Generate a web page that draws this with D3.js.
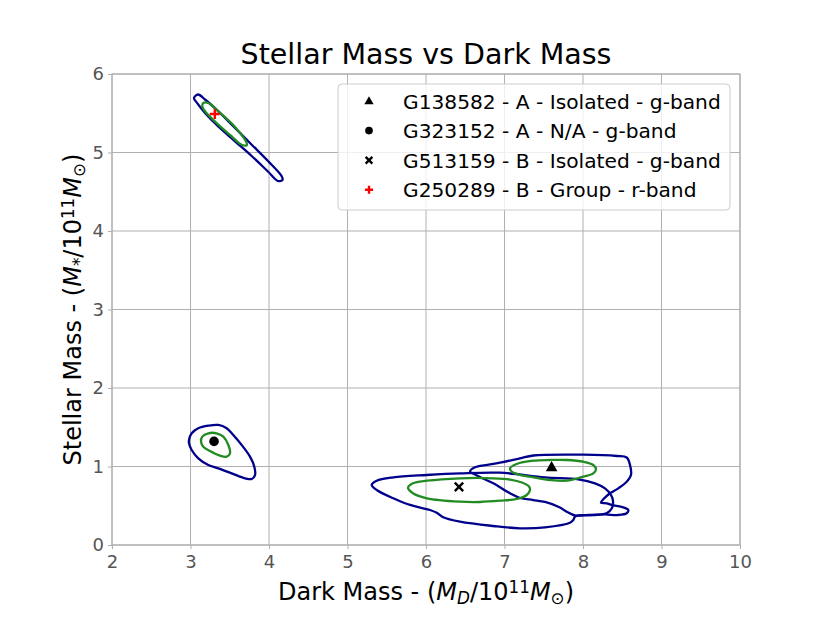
<!DOCTYPE html>
<html><head><meta charset="utf-8">
<script src="https://cdn.jsdelivr.net/npm/d3@7"></script>
<style>
html,body{margin:0;padding:0;background:#fff;}
svg{display:block;}
text{font-family:"DejaVu Sans",sans-serif;}
</style></head>
<body>
<svg id="chart" width="830" height="623"></svg>
<script>
// ---- data ----
const xTicks = [2,3,4,5,6,7,8,9,10];
const yTicks = [0,1,2,3,4,5,6];
const galaxyNames = ["G138582 - A - Isolated - g-band","G323152 - A - N/A - g-band","G513159 - B - Isolated - g-band","G250289 - B - Group - r-band"];
const galaxyX = [7.60, 3.30, 6.42, 3.31];
const galaxyY = [0.99, 1.32, 0.74, 5.49];

// contours [dark mass, stellar mass]
const outerG250289 = [[3.045,5.694],[3.096,5.739],[3.185,5.675],[3.350,5.529],[3.567,5.312],[3.783,5.096],[3.987,4.892],[4.162,4.697],[4.172,4.650],[4.115,4.637],[3.987,4.758],[3.783,4.952],[3.567,5.143],[3.350,5.334],[3.185,5.503],[3.083,5.631]];
const innerG250289 = [[3.150,5.589],[3.163,5.631],[3.227,5.631],[3.350,5.529],[3.567,5.325],[3.716,5.121],[3.716,5.092],[3.652,5.099],[3.503,5.223],[3.354,5.354],[3.185,5.525]];
const outerG323152 = [[2.981,1.338],[3.015,1.423],[3.099,1.487],[3.227,1.520],[3.354,1.529],[3.461,1.487],[3.545,1.401],[3.652,1.274],[3.758,1.125],[3.813,0.997],[3.822,0.892],[3.780,0.841],[3.694,0.850],[3.525,0.913],[3.354,0.977],[3.227,1.019],[3.099,1.104],[3.015,1.210],[2.981,1.296]];
const innerG323152 = [[3.134,1.316],[3.150,1.380],[3.227,1.423],[3.334,1.423],[3.418,1.380],[3.482,1.274],[3.503,1.168],[3.461,1.125],[3.376,1.138],[3.248,1.197],[3.163,1.252]];
const outerG513159 = [[5.308,0.764],[5.372,0.819],[5.583,0.862],[6.009,0.892],[6.433,0.913],[6.943,0.921],[7.516,0.862],[7.940,0.837],[8.153,0.786],[8.280,0.722],[8.357,0.637],[8.382,0.561],[8.369,0.471],[8.306,0.408],[8.153,0.382],[7.940,0.378],[7.898,0.361],[7.876,0.318],[7.834,0.284],[7.516,0.225],[7.197,0.213],[6.857,0.242],[6.433,0.297],[6.220,0.353],[6.136,0.411],[6.051,0.446],[5.796,0.510],[5.583,0.595],[5.372,0.701]];
const innerG513159 = [[5.771,0.730],[5.834,0.786],[6.013,0.819],[6.433,0.850],[6.854,0.850],[7.070,0.834],[7.223,0.796],[7.312,0.745],[7.325,0.701],[7.283,0.637],[7.155,0.586],[6.943,0.564],[6.688,0.548],[6.433,0.552],[6.013,0.595],[5.834,0.659]];
const outerG138582 = [[6.561,0.934],[6.624,0.990],[6.857,1.032],[7.197,1.104],[7.367,1.140],[8.004,1.150],[8.429,1.134],[8.556,1.115],[8.599,1.019],[8.611,0.892],[8.556,0.806],[8.450,0.722],[8.344,0.659],[8.259,0.582],[8.229,0.539],[8.302,0.531],[8.366,0.510],[8.513,0.480],[8.577,0.446],[8.556,0.404],[8.450,0.382],[8.280,0.389],[8.068,0.382],[7.898,0.376],[7.792,0.424],[7.707,0.478],[7.516,0.548],[7.367,0.573],[7.197,0.599],[7.070,0.659],[6.857,0.786],[6.688,0.866],[6.599,0.911]];
const innerG138582 = [[7.070,0.977],[7.155,1.032],[7.367,1.074],[7.580,1.083],[7.792,1.083],[8.004,1.061],[8.131,1.019],[8.166,0.964],[8.131,0.913],[8.004,0.870],[7.792,0.819],[7.580,0.828],[7.367,0.862],[7.197,0.892],[7.092,0.934]];

const outerContours = [outerG513159, outerG138582, outerG323152, outerG250289];
const innerContours = [innerG513159, innerG138582, innerG323152, innerG250289];

// ---- layout ----
const svg = d3.select("#chart");
const L = 112, R = 740, T = 74, B = 545;
const x = d3.scaleLinear().domain([2,10]).range([L,R]);
const y = d3.scaleLinear().domain([0,6]).range([B,T]);
const gridColor = "#b0b0b0";

// grid
svg.append("g").selectAll("line").data(xTicks).join("line")
  .attr("x1", d=>x(d)).attr("x2", d=>x(d)).attr("y1", T).attr("y2", B)
  .attr("stroke", gridColor).attr("stroke-width", 1);
svg.append("g").selectAll("line").data(yTicks).join("line")
  .attr("y1", d=>y(d)).attr("y2", d=>y(d)).attr("x1", L).attr("x2", R)
  .attr("stroke", gridColor).attr("stroke-width", 1);

// axes
const xAxis = svg.append("g").attr("transform", `translate(0,${B})`)
  .call(d3.axisBottom(x).tickValues(xTicks).tickFormat(d3.format("d")).tickSize(4).tickPadding(6));
const yAxis = svg.append("g").attr("transform", `translate(${L},0)`)
  .call(d3.axisLeft(y).tickValues(yTicks).tickFormat(d3.format("d")).tickSize(4).tickPadding(4));
[xAxis, yAxis].forEach(a=>{
  a.select(".domain").remove();
  a.selectAll("line").attr("stroke", gridColor);
  a.selectAll("text").attr("fill","#555").style("font-size","18px").style("font-family","DejaVu Sans");
});
// frame
svg.append("rect").attr("x",L).attr("y",T).attr("width",R-L).attr("height",B-T)
  .attr("fill","none").attr("stroke",gridColor).attr("stroke-width",1.2);

// contours
const line = d3.line().x(d=>x(d[0])).y(d=>y(d[1])).curve(d3.curveCatmullRomClosed.alpha(0.5));
svg.append("g").selectAll("path").data(outerContours).join("path")
  .attr("d", line).attr("fill","none").attr("stroke","#00008b").attr("stroke-width",2.3);
svg.append("g").selectAll("path").data(innerContours).join("path")
  .attr("d", line).attr("fill","none").attr("stroke","#228b22").attr("stroke-width",2.3);

// markers
function drawMarker(g, i, cx, cy, s) {
  if (i===0) g.append("path").attr("d", d3.symbol(d3.symbolTriangle, 58*s*s)()).attr("transform",`translate(${cx},${cy+0.5})`).attr("fill","#000");
  else if (i===1) g.append("circle").attr("cx",cx).attr("cy",cy).attr("r",4.8*s).attr("fill","#000");
  else if (i===2) {
    const h=4.2*s;
    g.append("path").attr("d",`M${cx-h},${cy-h}L${cx+h},${cy+h}M${cx-h},${cy+h}L${cx+h},${cy-h}`).attr("stroke","#000").attr("stroke-width",2.4);
  } else {
    const h=5*s;
    g.append("path").attr("d",`M${cx-h},${cy}L${cx+h},${cy}M${cx},${cy-h}L${cx},${cy+h}`).attr("stroke","#ff0000").attr("stroke-width",2.4);
  }
}
const mg = svg.append("g");
galaxyX.forEach((gx,i)=>drawMarker(mg, i, x(gx), y(galaxyY[i]), 1));

// title
svg.append("text").attr("x",(L+R)/2).attr("y",64).attr("text-anchor","middle")
  .style("font-size","28.5px").attr("fill","#000").text("Stellar Mass vs Dark Mass");

// axis labels with math
function mathLabel(t, pre, sub, midText, sup, sub2) {
  t.append("tspan").text(pre);
  t.append("tspan").style("font-style","italic").text("M");
  t.append("tspan").attr("baseline-shift","-25%").style("font-size","70%").style("font-style", sub==="*"?"normal":"italic").text(sub);
  t.append("tspan").text(midText);
  t.append("tspan").attr("baseline-shift","40%").style("font-size","70%").text(sup);
  t.append("tspan").style("font-style","italic").text("M");
  t.append("tspan").attr("baseline-shift","-25%").style("font-size","70%").text(sub2);
  t.append("tspan").text(")");
}
const xl = svg.append("text").attr("x",(L+R)/2).attr("y",600).attr("text-anchor","middle")
  .style("font-size","24px").attr("fill","#000");
mathLabel(xl, "Dark Mass - (", "D", "/10", "11", "\u2299");
const yl = svg.append("text").attr("transform",`translate(81,${(T+B)/2}) rotate(-90)`).attr("text-anchor","middle")
  .style("font-size","24px").attr("fill","#000");
mathLabel(yl, "Stellar Mass - (", "*", "/10", "11", "\u2299");

// legend
const lg = svg.append("g");
lg.append("rect").attr("x",338).attr("y",84).attr("width",392).attr("height",126).attr("rx",4)
  .attr("fill","#fff").attr("fill-opacity",0.8).attr("stroke","#cccccc").attr("stroke-width",1);
galaxyNames.forEach((name,i)=>{
  const cy = 101 + i*29.6;
  drawMarker(lg, i, 369, cy, 0.8);
  lg.append("text").attr("x",403).attr("y",cy+7.5).style("font-size","20.2px").attr("fill","#000").text(name);
});
</script>
</body></html>
